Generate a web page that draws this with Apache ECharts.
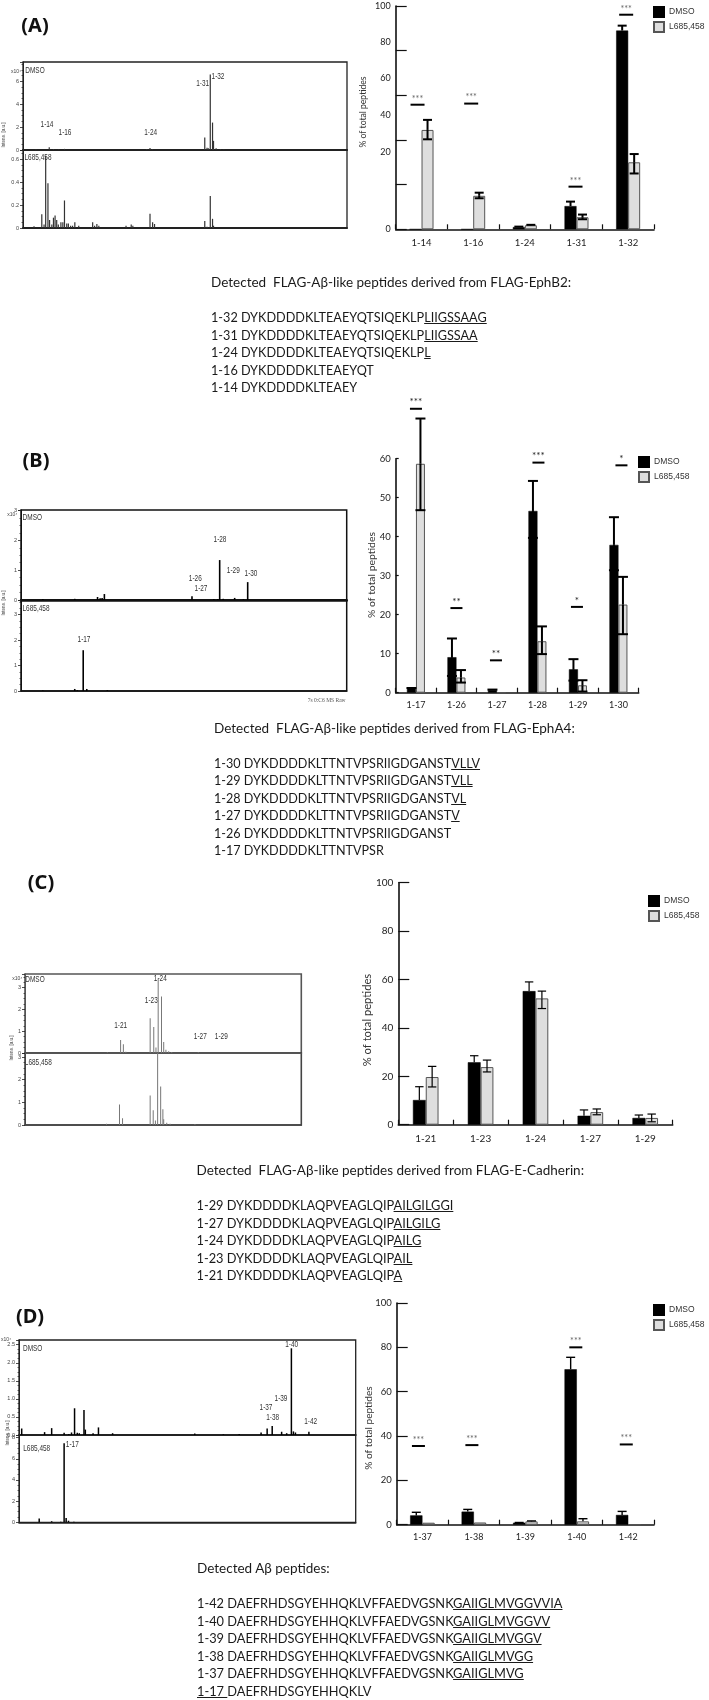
<!DOCTYPE html>
<html>
<head>
<meta charset="utf-8">
<title>FLAG-Abeta-like peptides</title>
<script src="https://cdn.jsdelivr.net/npm/echarts@6/dist/echarts.min.js"></script>
<style>
  html, body { margin: 0; padding: 0; background: #fff; }
  #main { position: absolute; left: 0; top: 0; width: 709px; height: 1700px; }
  .caption { position: absolute; font-family: Lato, "Noto Sans", sans-serif; color: #1a1a1a; white-space: pre; }
  .caption div { height: 17.55px; line-height: 17.55px; }
  .caption div:first-child { font-size: 13.5px; }
</style>
</head>
<body>
<div id="main"></div>
<div id="captions"></div>
<script>
// ---- bar chart values ----
const aCats = ['1-14', '1-16', '1-24', '1-31', '1-32'];
const aDmso = [0, 0, 1, 10.4, 89];
const aDmsoHigh = [null, null, 1.2, 12.4, 91.2];
const aDmsoLow = [null, null, null, null, null];
const aL685 = [44.5, 15, 1.8, 5.4, 30];
const aL685High = [49, 16.4, 2, 6.6, 33.7];
const aL685Low = [40.3, 13.9, null, 4.5, 25];
const aSigCats = [0, 1, 3, 4];
const aSigValues = [55.8, 56.3, 19.1, 96.1];
const aSigStars = ['***', '***', '***', '***'];
// the printed labels of panel A do not sit on its ticks
const aTickPlaces = [0, 34.5, 51, 67.5, 84, 100];
const aTickLabels = ['0', '20', '40', '60', '80', '100'];

const bCats = ['1-17', '1-26', '1-27', '1-28', '1-29', '1-30'];
const bDmso = [1.1, 9.1, 0.7, 46.6, 6, 37.9];
const bDmsoHigh = [1.2, 13.9, 0.8, 54.3, 8.6, 45];
const bDmsoLow = [null, 4.3, null, 39.7, 3.1, 31.4];
const bL685 = [58.7, 3.9, 0, 13.2, 1.9, 22.6];
const bL685High = [70.3, 5.8, null, 17, 3.2, 29.7];
const bL685Low = [46.8, 2.6, null, 9.9, 0.3, 15];
const bSigCats = [0, 1, 2, 3, 4, 5];
const bSigValues = [72.8, 21.7, 8.3, 59, 22, 58.3];
const bSigStars = ['***', '**', '**', '***', '*', '*'];

const cCats = ['1-21', '1-23', '1-24', '1-27', '1-29'];
const cDmso = [10.2, 25.8, 55.2, 3.7, 2.8];
const cDmsoHigh = [15.7, 28.5, 59, 6.1, 4];
const cDmsoLow = [null, null, null, null, null];
const cL685 = [19.7, 23.8, 52.2, 5.2, 2.8];
const cL685High = [24.1, 26.7, 55.2, 6.5, 4.4];
const cL685Low = [15.6, 21.8, 48, 4.1, 1.2];

const dCats = ['1-37', '1-38', '1-39', '1-40', '1-42'];
const dDmso = [4.2, 5.9, 0.9, 70.1, 4.4];
const dDmsoHigh = [5.6, 6.9, 1, 75.5, 6];
const dDmsoLow = [null, null, null, null, null];
const dL685 = [0.9, 1, 1.5, 1.5, 0];
const dL685High = [null, null, 1.7, 2.7, null];
const dL685Low = [null, null, null, null, null];
const dSigCats = [0, 1, 3, 4];
const dSigValues = [35.5, 35.9, 80, 36.2];
const dSigStars = ['***', '***', '***', '***'];

// ---- mass spectra, [m/z position, intensity] ----
const specADmso = [[40, 0.04], [81, 0.25], [94, 0.08], [110, 0.05], [128, 0.1], [382, 0.08], [392, 0.18], [400, 0.06], [561, 1.1], [568, 0.2], [572, 0.15], [578, 6.6], [585, 2.4], [588, 0.8], [596, 0.15], [609, 0.06], [620, 0.05]];
const specAL685 = [[34, 0.015], [58, 0.12], [65, 0.03], [70, 0.63], [77, 0.39], [82, 0.07], [89, 0.03], [94, 0.09], [99, 0.11], [104, 0.07], [109, 0.03], [117, 0.05], [123, 0.05], [128, 0.24], [135, 0.04], [140, 0.04], [147, 0.02], [153, 0.02], [160, 0.05], [172, 0.02], [215, 0.05], [221, 0.02], [228, 0.035], [234, 0.02], [318, 0.02], [334, 0.03], [339, 0.02], [392, 0.125], [400, 0.05], [406, 0.035], [561, 0.06], [568, 0.01], [578, 0.28], [585, 0.08], [588, 0.02]];
const specBDmso = [[67, 0.03], [165, 0.04], [235, 0.1], [243, 0.06], [249, 0.07], [256, 0.2], [525, 0.13], [592, 0.03], [604, 0.03], [610, 1.34], [621, 0.04], [656, 0.07], [683, 0.03], [696, 0.6]];
const specBL685 = [[67, 0.02], [165, 0.08], [173, 0.03], [191, 1.6], [202, 0.08], [265, 0.03]];
const specCDmso = [[298, 0.04], [346, 0.6], [356, 0.4], [365, 0.06], [453, 1.6], [466, 1.2], [474, 0.25], [482, 3.4], [494, 2.6], [502, 0.5], [510, 0.15], [520, 0.08], [531, 0.05], [627, 0.03]];
const specCL685 = [[295, 0.05], [342, 0.9], [353, 0.3], [453, 1.3], [464, 0.65], [472, 0.2], [480, 3.2], [491, 1.7], [499, 0.7], [502, 0.25], [513, 0.1], [525, 0.06], [615, 0.04]];
const specDDmso = [[8, 0.18], [76, 0.08], [97, 0.19], [134, 0.06], [148, 0.03], [156, 0.07], [165, 0.74], [173, 0.06], [179, 0.05], [193, 0.69], [197, 0.15], [220, 0.05], [236, 0.21], [278, 0.05], [522, 0.04], [607, 0.02], [654, 0.03], [719, 0.07], [737, 0.18], [752, 0.25], [780, 0.09], [795, 0.05], [809, 2.4], [815, 0.1], [821, 0.07], [861, 0.09]];
const specDL685 = [[60, 0.35], [97, 0.1], [124, 0.05], [134, 7.46], [140, 0.4], [147, 0.15], [163, 0.05]];

// ---- peptide captions ----
const capA = ['Detected  FLAG-A\u03b2-like peptides derived from FLAG-EphB2:', '',
  '1-32 DYKDDDDKLTEAEYQTSIQEKLP<u>LIIGSSAAG</u>',
  '1-31 DYKDDDDKLTEAEYQTSIQEKLP<u>LIIGSSAA</u>',
  '1-24 DYKDDDDKLTEAEYQTSIQEKLP<u>L</u>',
  '1-16 DYKDDDDKLTEAEYQT',
  '1-14 DYKDDDDKLTEAEY'];
const capB = ['Detected  FLAG-A\u03b2-like peptides derived from FLAG-EphA4:', '',
  '1-30 DYKDDDDKLTTNTVPSRIIGDGANST<u>VLLV</u>',
  '1-29 DYKDDDDKLTTNTVPSRIIGDGANST<u>VLL</u>',
  '1-28 DYKDDDDKLTTNTVPSRIIGDGANST<u>VL</u>',
  '1-27 DYKDDDDKLTTNTVPSRIIGDGANST<u>V</u>',
  '1-26 DYKDDDDKLTTNTVPSRIIGDGANST',
  '1-17 DYKDDDDKLTTNTVPSR'];
const capC = ['Detected  FLAG-A\u03b2-like peptides derived from FLAG-E-Cadherin:', '',
  '1-29 DYKDDDDKLAQPVEAGLQIP<u>AILGILGGI</u>',
  '1-27 DYKDDDDKLAQPVEAGLQIP<u>AILGILG</u>',
  '1-24 DYKDDDDKLAQPVEAGLQIP<u>AILG</u>',
  '1-23 DYKDDDDKLAQPVEAGLQIP<u>AIL</u>',
  '1-21 DYKDDDDKLAQPVEAGLQIP<u>A</u>'];
const capD = ['Detected A\u03b2 peptides:', '',
  '1-42 DAEFRHDSGYEHHQKLVFFAEDVGSNK<u>GAIIGLMVGGVVIA</u>',
  '1-40 DAEFRHDSGYEHHQKLVFFAEDVGSNK<u>GAIIGLMVGGVV</u>',
  '1-39 DAEFRHDSGYEHHQKLVFFAEDVGSNK<u>GAIIGLMVGGV</u>',
  '1-38 DAEFRHDSGYEHHQKLVFFAEDVGSNK<u>GAIIGLMVGG</u>',
  '1-37 DAEFRHDSGYEHHQKLVFFAEDVGSNK<u>GAIIGLMVG</u>',
  '<u>1-17 </u>DAEFRHDSGYEHHQKLV'];

const NARROW = '"Liberation Sans", sans-serif';
const SANS = 'Lato, "Noto Sans", sans-serif';

const grid = [], xAxis = [], yAxis = [], series = [], legend = [], graphic = [];

function whisker(side, barW, capW, lineW, lows) {
  return function (params, api) {
    const x = api.coord([api.value(0), 0])[0] + side * barW / 2;
    const mean = api.coord([api.value(0), api.value(1)])[1];
    const high = api.coord([api.value(0), api.value(2)])[1];
    const style = { stroke: '#000', lineWidth: lineW };
    const kids = [
      { type: 'line', shape: { x1: x, y1: mean, x2: x, y2: high }, style },
      { type: 'line', shape: { x1: x - capW, y1: high, x2: x + capW, y2: high }, style }
    ];
    const lowValue = lows[api.value(0)];
    if (lowValue !== null) {
      const low = api.coord([api.value(0), lowValue])[1];
      kids.push({ type: 'line', shape: { x1: x, y1: mean, x2: x, y2: low }, style });
      kids.push({ type: 'line', shape: { x1: x - capW, y1: low, x2: x + capW, y2: low }, style });
    }
    return { type: 'group', children: kids };
  };
}

function errData(mean, high) {
  const out = [];
  mean.forEach((m, i) => {
    if (high[i] !== null) out.push([i, m, high[i]]);
  });
  return out;
}

function addBars(p) {
  const n = grid.length;
  grid.push({ left: p.left, top: p.top, width: p.width, height: p.height });
  xAxis.push({
    gridIndex: n, type: 'category', data: p.cats,
    axisLine: { lineStyle: { color: '#111', width: 1.6 } },
    axisTick: { show: true, inside: true, length: 5, lineStyle: { color: '#111', width: 1.2 } },
    axisLabel: { margin: p.catMargin, fontFamily: SANS, fontSize: p.catSize, color: '#222', interval: 0 }
  });
  yAxis.push({
    gridIndex: n, type: 'value', min: 0, max: p.max, interval: p.interval,
    splitLine: { show: false },
    axisLine: { show: true, lineStyle: { color: '#111', width: 1.6 } },
    axisTick: { show: true, inside: true, length: p.tickLen, lineStyle: { color: '#111', width: 1.2 } },
    axisLabel: Object.assign({ margin: 5, fontFamily: SANS, fontSize: p.labelSize, color: '#222' }, p.labelExtra || {})
  });
  series.push({
    name: 'DMSO', type: 'bar', xAxisIndex: n, yAxisIndex: n, data: p.dmso,
    barWidth: p.barW, barGap: 0, itemStyle: { color: '#000', borderColor: '#000', borderWidth: 0.5 }
  });
  series.push({
    name: 'L685,458', type: 'bar', xAxisIndex: n, yAxisIndex: n, data: p.l685,
    barWidth: p.barW, barGap: 0, itemStyle: { color: '#dedede', borderColor: '#555', borderWidth: 1 }
  });
  // z above the bars, the lower half of a whisker runs over them
  series.push({
    type: 'custom', xAxisIndex: n, yAxisIndex: n, clip: false, silent: true, z: 5,
    encode: { x: 0, y: 2 }, data: errData(p.dmso, p.dmsoHigh),
    renderItem: whisker(-1, p.barW, p.capW, p.errW, p.dmsoLow)
  });
  series.push({
    type: 'custom', xAxisIndex: n, yAxisIndex: n, clip: false, silent: true, z: 5,
    encode: { x: 0, y: 2 }, data: errData(p.l685, p.l685High),
    renderItem: whisker(1, p.barW, p.capW, p.errW, p.l685Low)
  });
  if (p.sigCats) {
    series.push({
      type: 'custom', xAxisIndex: n, yAxisIndex: n, clip: false, silent: true, z: 5,
      encode: { x: 0, y: 1 },
      data: p.sigCats.map((c, i) => [c, p.sigValues[i]]),
      renderItem(params, api) {
        const pt = api.coord([api.value(0), api.value(1)]);
        const x = pt[0] + p.sigShift[params.dataIndex];
        return {
          type: 'group', children: [
            { type: 'line', shape: { x1: x - p.sigW / 2, y1: pt[1], x2: x + p.sigW / 2, y2: pt[1] }, style: { stroke: '#000', lineWidth: 2 } },
            { type: 'text', style: { text: p.sigStars[params.dataIndex], x, y: pt[1] - 1.5, align: 'center', verticalAlign: 'bottom', fontSize: p.starSize, fontFamily: SANS, fill: p.starColor } }
          ]
        };
      }
    });
  }
  legend.push({
    data: ['DMSO', 'L685,458'], orient: 'vertical', left: p.legendLeft, top: p.legendTop, padding: 0,
    itemWidth: 10, itemHeight: 10, itemGap: 3, selectedMode: false, icon: 'rect',
    textStyle: { fontFamily: '"Liberation Sans", sans-serif', fontSize: 8.5, color: '#333' }
  });
  note('% of total peptides', p.nameX, p.nameY, p.nameSize, '#333', { rotation: Math.PI / 2, family: SANS, plain: true });
}

function addSpectrum(s) {
  const n = grid.length;
  grid.push({ left: s.left, top: s.top, width: s.width, height: s.height, show: true, borderColor: s.frame, borderWidth: s.frameW, backgroundColor: 'transparent' });
  xAxis.push({
    gridIndex: n, type: 'value', min: 0, max: 1000,
    axisLine: { show: true, lineStyle: { color: s.frame, width: s.baseW } },
    axisTick: { show: false }, axisLabel: { show: false }, splitLine: { show: false }
  });
  yAxis.push({
    gridIndex: n, type: 'value', min: 0, max: s.max, interval: s.interval,
    splitLine: { show: false }, minorSplitLine: { show: false },
    axisLine: { show: true, lineStyle: { color: s.frame, width: 1 } },
    axisTick: { show: true, length: 3, lineStyle: { color: '#222', width: 0.8 } },
    minorTick: { show: true, splitNumber: 4, length: 1.5, lineStyle: { color: '#222', width: 0.7 } },
    axisLabel: { margin: 4, fontFamily: NARROW, fontSize: 5.5, color: '#444', showMaxLabel: false, formatter: s.format }
  });
  series.push({
    type: 'bar', name: s.name, xAxisIndex: n, yAxisIndex: n, data: s.peaks, barWidth: s.peakW, silent: true,
    itemStyle: { color: s.peakColor }
  });
}

function note(text, x, y, size, color, extra) {
  const o = extra || {};
  graphic.push({
    type: 'text', x, y, rotation: o.rotation || 0,
    // the spectrum labels are set in a squeezed face
    scaleX: o.plain ? 1 : 0.68,
    style: {
      text, align: 'center', verticalAlign: 'middle', fontSize: size, fill: color,
      fontFamily: o.family || NARROW,
      fontWeight: o.weight || 'normal'
    }
  });
}

// ---- bar panels ----
addBars({
  cats: aCats, dmso: aDmso, dmsoHigh: aDmsoHigh, dmsoLow: aDmsoLow, l685: aL685, l685High: aL685High, l685Low: aL685Low,
  sigCats: aSigCats, sigValues: aSigValues, sigStars: aSigStars, sigShift: [-4, -2, -1, -2],
  left: 395.7, top: 6, width: 258.3, height: 223.3, max: 100, interval: 20,
  barW: 12, capW: 4.5, errW: 2, sigW: 14, starSize: 9, starColor: '#666', tickLen: 11,
  catMargin: 9, catSize: 9.5, labelSize: 9, nameSize: 8.6, nameX: 363, nameY: 112,
  labelExtra: { customValues: aTickPlaces, formatter: v => aTickLabels[aTickPlaces.indexOf(v)] },
  legendLeft: 653, legendTop: 6
});
addBars({
  cats: bCats, dmso: bDmso, dmsoHigh: bDmsoHigh, dmsoLow: bDmsoLow, l685: bL685, l685High: bL685High, l685Low: bL685Low,
  sigCats: bSigCats, sigValues: bSigValues, sigStars: bSigStars, sigShift: [0, 0, -1, 1, -1, 3],
  left: 395.7, top: 458.7, width: 243, height: 234, max: 60, interval: 10,
  barW: 9, capW: 5, errW: 2, sigW: 12, starSize: 10, starColor: '#222', tickLen: 3,
  catMargin: 8, catSize: 9, labelSize: 9.5, nameSize: 10.4, nameX: 372, nameY: 575,
  legendLeft: 638, legendTop: 456
});
addBars({
  cats: cCats, dmso: cDmso, dmsoHigh: cDmsoHigh, dmsoLow: cDmsoLow, l685: cL685, l685High: cL685High, l685Low: cL685Low,
  left: 398.3, top: 882.7, width: 274.4, height: 242, max: 100, interval: 20,
  barW: 12.8, capW: 4.2, errW: 1.2, tickLen: 11,
  catMargin: 9, catSize: 10, labelSize: 10, nameSize: 11.2, nameX: 367, nameY: 1020,
  legendLeft: 648, legendTop: 895
});
addBars({
  cats: dCats, dmso: dDmso, dmsoHigh: dDmsoHigh, dmsoLow: dDmsoLow, l685: dL685, l685High: dL685High, l685Low: dL685Low,
  sigCats: dSigCats, sigValues: dSigValues, sigStars: dSigStars, sigShift: [-4, -2, -1, -2],
  left: 396.7, top: 1303, width: 257.3, height: 221.7, max: 100, interval: 20,
  barW: 12.3, capW: 4.5, errW: 1.4, sigW: 13, starSize: 9, starColor: '#666', tickLen: 11,
  catMargin: 8, catSize: 9, labelSize: 9.5, nameSize: 10.1, nameX: 369, nameY: 1428,
  legendLeft: 653, legendTop: 1304
});

// ---- spectrum panels ----
addSpectrum({ name: 'A DMSO', peaks: specADmso, left: 23, top: 62, width: 324, height: 88, max: 7.7, interval: 2, frame: '#222', frameW: 1.3, baseW: 1.8, peakW: 1.2, peakColor: '#333' });
addSpectrum({ name: 'A L685,458', peaks: specAL685, left: 23, top: 150, width: 324, height: 78, max: 0.68, interval: 0.2, frame: '#222', frameW: 1.3, baseW: 1.8, peakW: 1.2, peakColor: '#333' });
addSpectrum({ name: 'B DMSO', peaks: specBDmso, left: 21, top: 510, width: 325.7, height: 90, max: 3.02, interval: 1, frame: '#111', frameW: 1.5, baseW: 2.6, peakW: 1.6, peakColor: '#000' });
addSpectrum({ name: 'B L685,458', peaks: specBL685, left: 21, top: 600, width: 325.7, height: 91, max: 3.57, interval: 1, frame: '#111', frameW: 1.5, baseW: 1.5, peakW: 1.6, peakColor: '#000' });
addSpectrum({ name: 'C DMSO', peaks: specCDmso, left: 25, top: 974, width: 276.3, height: 79, max: 3.63, interval: 1, frame: '#555', frameW: 1.6, baseW: 1, peakW: 1, peakColor: '#777' });
addSpectrum({ name: 'C L685,458', peaks: specCL685, left: 25, top: 1053, width: 276.3, height: 72, max: 3.18, interval: 1, frame: '#444', frameW: 1.6, baseW: 1.6, peakW: 1, peakColor: '#777' });
addSpectrum({ name: 'D DMSO', peaks: specDDmso, left: 19, top: 1340, width: 336.7, height: 95, max: 2.63, interval: 0.5, frame: '#222', frameW: 1.3, baseW: 1.6, peakW: 1.5, peakColor: '#000', format: v => v.toFixed(1) });
addSpectrum({ name: 'D L685,458', peaks: specDL685, left: 19, top: 1435, width: 336.7, height: 87.3, max: 8.25, interval: 2, frame: '#222', frameW: 1.3, baseW: 1.6, peakW: 1.5, peakColor: '#000' });

// ---- text on the spectra ----
[['1-14', 47, 124.7], ['1-16', 65, 132.3], ['1-24', 150.7, 132.3], ['1-31', 202.7, 83.3], ['1-32', 218, 76.7], ['DMSO', 35, 70], ['L685,458', 38, 157.7],
 ['1-28', 220, 539], ['1-26', 195.3, 578.3], ['1-27', 201, 588], ['1-29', 233.3, 570], ['1-30', 251, 573.3], ['1-17', 84, 639], ['DMSO', 32.3, 517.3], ['L685,458', 36, 608.3],
 ['1-24', 160.3, 978.7], ['1-23', 151.3, 1000], ['1-21', 120.7, 1025.3], ['1-27', 200.3, 1036.7], ['1-29', 221.3, 1036.7], ['DMSO', 35, 979.7], ['L685,458', 38.3, 1062],
 ['1-40', 291.7, 1344.7], ['1-39', 281, 1398.7], ['1-37', 266, 1407.7], ['1-38', 272.7, 1417.7], ['1-42', 310.7, 1421], ['1-17', 72.3, 1444], ['DMSO', 32.7, 1348.7], ['L685,458', 36.7, 1448.7]
].forEach(t => note(t[0], t[1], t[2], 9.5, '#333'));

[[16, 71.7], [12.3, 515], [17.3, 979], [6, 1340]].forEach(t => note('x10\u2074', t[0], t[1], 5, '#444', { plain: true }));
[[3.3, 135], [3.5, 603], [12, 1048], [7.3, 1433]].forEach(t => note('Intens. [a.u.]', t[0], t[1], 4.5, '#444', { rotation: Math.PI / 2, plain: true }));
note('7s 0:C6 MS Raw', 326.7, 701, 5.5, '#555', { family: '"Liberation Serif", serif', plain: true });

[['(A)', 35, 26], ['(B)', 36, 461.7], ['(C)', 41, 883], ['(D)', 30, 1317.7]].forEach(t => note(t[0], t[1], t[2], 20, '#111', { family: '"Noto Sans", sans-serif', weight: 'bold', plain: true }));

const chart = echarts.init(document.getElementById('main'), null, { renderer: 'canvas' });
chart.setOption({
  animation: false,
  tooltip: { show: false },
  grid, xAxis, yAxis, series, legend, graphic
});

// peptide lists under each panel
[[capA, 211, 273.9, 12.66], [capB, 214, 719.5, 12.6], [capC, 196.5, 1162.2, 12.8], [capD, 197, 1560.2, 12.8]].forEach(c => {
  const box = document.createElement('div');
  box.className = 'caption';
  box.style.left = c[1] + 'px';
  box.style.top = c[2] + 'px';
  box.style.fontSize = c[3] + 'px';
  box.innerHTML = c[0].map(line => '<div>' + line + '</div>').join('');
  document.getElementById('captions').appendChild(box);
});
</script>
</body>
</html>
